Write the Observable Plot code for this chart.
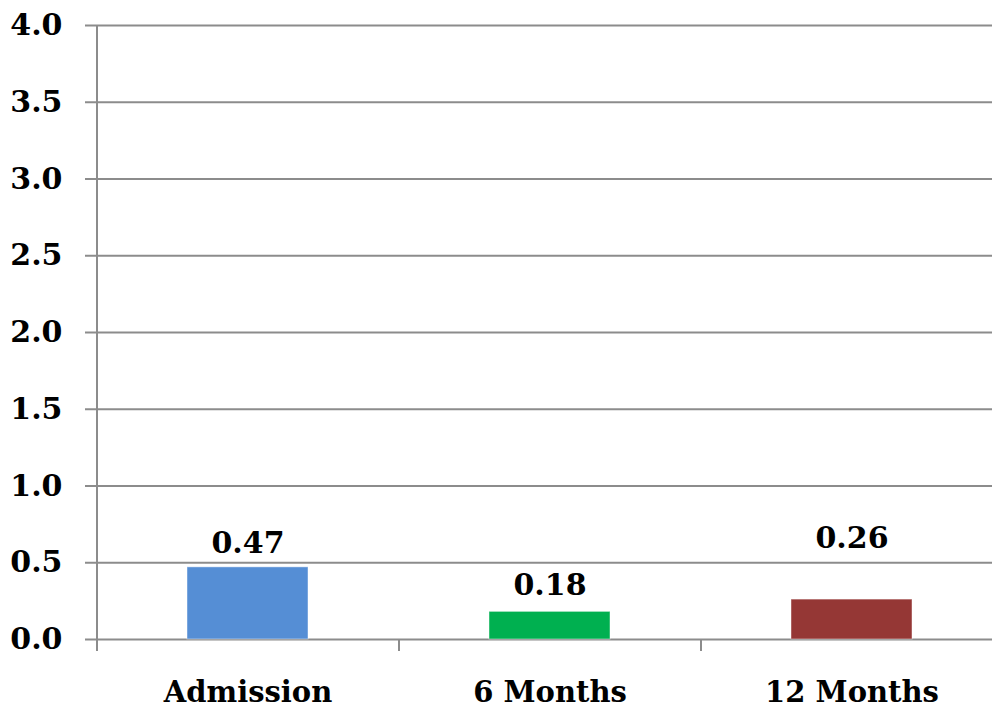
<!DOCTYPE html>
<html>
<head>
<meta charset="utf-8">
<script src="https://cdn.jsdelivr.net/npm/d3@7"></script>
<script src="https://cdn.jsdelivr.net/npm/@observablehq/plot@0.6"></script>
<style>
  html, body { margin: 0; padding: 0; background: #fff; }
  svg { display: block; }
</style>
</head>
<body>
<div id="chart"></div>
<script>
const categories = ["Admission", "6 Months", "12 Months"];
const values = [0.47, 0.18, 0.26];
const labels = ["0.47", "0.18", "0.26"];
const colors = ["#558ED5", "#00B050", "#953735"];
const yTicks = [0, 0.5, 1, 1.5, 2, 2.5, 3, 3.5, 4];

const data = categories.map((c, i) => ({category: c, value: values[i], label: labels[i], color: colors[i]}));

const font = "'DejaVu Serif', serif";
const halfStep = 151;

const chart = Plot.plot({
  width: 992,
  height: 709,
  marginTop: 25,
  marginBottom: 70,
  marginLeft: 96,
  marginRight: 0,
  style: {fontFamily: font, fontWeight: "bold", fontSize: "30px", color: "#000", background: "#fff"},
  x: {domain: categories, range: [96, 1002], paddingInner: 0.6, paddingOuter: 0.3, label: null},
  y: {domain: [0, 4], label: null},
  marks: [
    Plot.ruleY(yTicks, {stroke: "#8c8c8c", strokeWidth: 2, insetLeft: -11}),
    Plot.ruleX([categories[0]], {dx: -halfStep, y1: 4, y2: 0, stroke: "#8c8c8c", strokeWidth: 2, insetBottom: -12}),
    Plot.ruleX(categories.slice(1), {dx: -halfStep, y1: 0, y2: 0, stroke: "#8c8c8c", strokeWidth: 2, insetBottom: -12}),
    Plot.barY(data, {x: "category", y: "value", fill: "color", stroke: "#ffffff", strokeOpacity: 0.45, strokeWidth: 1}),
    Plot.text(data.slice(0, 1), {x: "category", y: "value", text: "label", dy: -24, fontSize: 30, fontWeight: "bold", fill: "#000"}),
    Plot.text(data.slice(1, 2), {x: "category", y: "value", text: "label", dy: -26, fontSize: 30, fontWeight: "bold", fill: "#000"}),
    Plot.text(data.slice(2), {x: "category", y: "value", text: "label", dy: -61, fontSize: 30, fontWeight: "bold", fill: "#000"}),
    Plot.axisY({ticks: yTicks, tickSize: 0, tickPadding: 34, tickFormat: d => d.toFixed(1), fontSize: 30, fontWeight: "bold"}),
    Plot.axisX({tickSize: 0, tickPadding: 42, fontSize: 29, fontWeight: "bold"})
  ]
});
document.getElementById("chart").appendChild(chart);
</script>
</body>
</html>
